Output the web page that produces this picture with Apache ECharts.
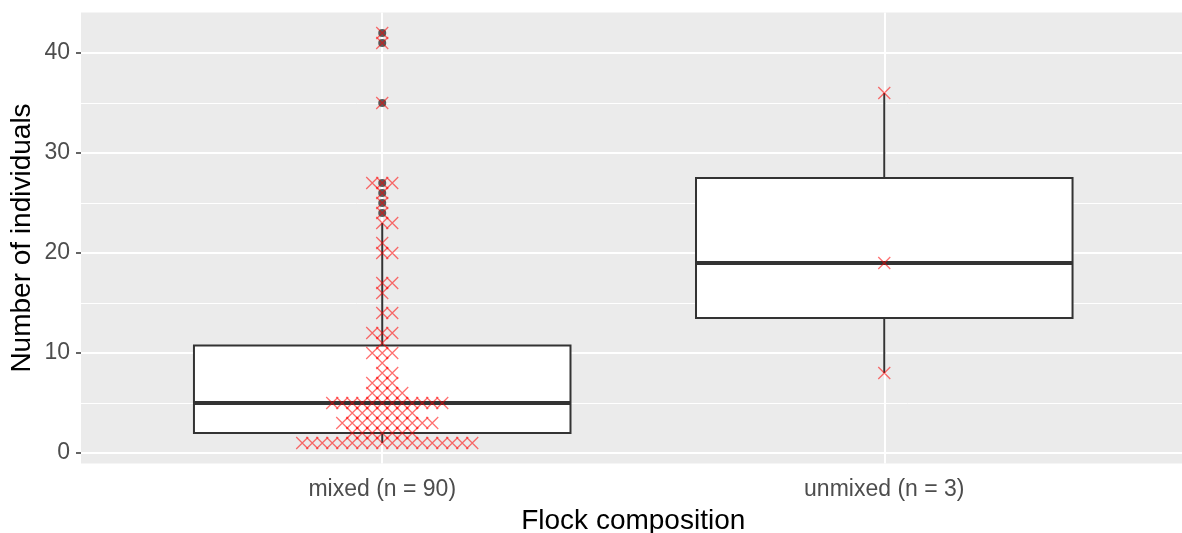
<!DOCTYPE html>
<html><head><meta charset="utf-8">
<script src="https://cdn.jsdelivr.net/npm/echarts@6/dist/echarts.min.js"></script>
<style>html,body{margin:0;padding:0;background:#fff}#c{width:1182px;height:533px}</style>
</head><body><div id="c"></div>
<script>
// ---- data ----
const categories = ['mixed (n = 90)', 'unmixed (n = 3)'];
const mixedValues = [
  1,1,1,1,1,1,1,1,1,1,1,1,1,1,1,1,1,1,
  2,2,2,2,2,2,2,
  3,3,3,3,3,3,3,3,3,3,
  4,4,4,4,4,4,4,
  5,5,5,5,5,5,5,5,5,5,5,5,
  6,6,6,6,
  7,7,7,
  8,8,
  9,
  10,10,10,
  11,
  12,12,12,
  14,14,
  16,
  17,17,
  20,20,
  21,
  23,23,
  24,25,26,
  27,27,27,
  35,41,42
];
const unmixedValues = [8, 19, 36];
const yTicks = [0, 10, 20, 30, 40];
const yMinorBreaks = [5, 15, 25, 35];
const xTicks = [1, 2];

// ---- layout constants ----
const GRID_LEFT = 81, GRID_TOP = 12.5, GRID_W = 1104.5, GRID_H = 451;
const X_MIN = 0.4, X_MAX = 2.6, Y_MIN = -1.05, Y_MAX = 44.05;
const SWARM_PX = 10;
const pxPerUnit = GRID_W / (X_MAX - X_MIN);

function quantile(sorted, p) {
  const h = (sorted.length - 1) * p;
  const lo = Math.floor(h), hi = Math.ceil(h);
  return sorted[lo] + (h - lo) * (sorted[hi] - sorted[lo]);
}
function boxStats(vals) {
  const s = vals.slice().sort((a, b) => a - b);
  const q1 = quantile(s, 0.25), med = quantile(s, 0.5), q3 = quantile(s, 0.75);
  const iqr = q3 - q1, lf = q1 - 1.5 * iqr, uf = q3 + 1.5 * iqr;
  const inside = s.filter(v => v >= lf && v <= uf);
  const out = Array.from(new Set(s.filter(v => v < lf || v > uf)));
  return { lo: inside[0], q1, med, q3, hi: inside[inside.length - 1], out };
}
function swarm(vals, center) {
  const s = vals.slice().sort((a, b) => a - b);
  const counts = {};
  return s.map(v => {
    const k = counts[v] || 0; counts[v] = k + 1;
    const idx = k === 0 ? 0 : (k % 2 === 1 ? (k + 1) / 2 : -k / 2);
    return [center + idx * SWARM_PX / pxPerUnit, v];
  });
}

const groups = [mixedValues, unmixedValues];
const stats = groups.map(boxStats);
const boxData = stats.map((st, i) => [i + 1, st.lo, st.q1, st.med, st.q3, st.hi]);
const outlierData = [];
stats.forEach((st, i) => st.out.forEach(v => outlierData.push([i + 1, v])));
const pointData = [];
groups.forEach((g, i) => swarm(g, i + 1).forEach(p => pointData.push(p)));

const chart = echarts.init(document.getElementById('c'), null, { renderer: 'canvas' });
const FONT = 'Liberation Sans, Arial, sans-serif';
const gridLines = []
  .concat(yMinorBreaks.map(v => ({ yAxis: v, lineStyle: { width: 1, color: '#FFFFFF', type: 'solid' } })))
  .concat(yTicks.map(v => ({ yAxis: v, lineStyle: { width: 2, color: '#FFFFFF', type: 'solid' } })))
  .concat(xTicks.map(v => ({ xAxis: v, lineStyle: { width: 2, color: '#FFFFFF', type: 'solid' } })));

chart.setOption({
  animation: false,
  textStyle: { fontFamily: FONT },
  grid: { left: GRID_LEFT, top: GRID_TOP, width: GRID_W, height: GRID_H, show: true,
          backgroundColor: '#EBEBEB', borderWidth: 0, z: 0,
          containLabel: false, outerBoundsMode: 'none' },
  xAxis: {
    type: 'value', min: X_MIN, max: X_MAX,
    axisLine: { show: false }, splitLine: { show: false },
    axisTick: { show: true, customValues: xTicks, length: 5, lineStyle: { color: '#333333', width: 1.5 } },
    axisLabel: { customValues: xTicks, formatter: v => categories[Math.round(v) - 1],
                 color: '#4D4D4D', fontSize: 23, margin: 15, fontFamily: FONT },
    name: 'Flock composition', nameLocation: 'middle', nameGap: 44,
    nameTextStyle: { color: '#000000', fontSize: 28, fontFamily: FONT }
  },
  yAxis: {
    type: 'value', min: Y_MIN, max: Y_MAX,
    axisLine: { show: false }, splitLine: { show: false },
    axisTick: { show: true, customValues: yTicks, length: 5, lineStyle: { color: '#333333', width: 1.5 } },
    axisLabel: { customValues: yTicks, color: '#4D4D4D', fontSize: 23, margin: 11, fontFamily: FONT },
    name: 'Number of individuals', nameLocation: 'middle', nameGap: 45, nameRotate: 90,
    nameMoveOverlap: false,
    nameTextStyle: { color: '#000000', fontSize: 28, fontFamily: FONT }
  },
  series: [
    { type: 'scatter', data: [], z: 1, silent: true,
      markLine: { z: 1, zlevel: 0, silent: true, symbol: ['none', 'none'], label: { show: false },
                  animation: false, data: gridLines } },
    { type: 'custom', z: 6, data: boxData, silent: true,
      renderItem: function (params, api) {
        const x = api.value(0), hw = 0.375;
        const lo = api.coord([x, api.value(1)]);
        const q1L = api.coord([x - hw, api.value(2)]);
        const medL = api.coord([x - hw, api.value(3)]);
        const q3R = api.coord([x + hw, api.value(4)]);
        const hi = api.coord([x, api.value(5)]);
        const c = api.coord([x, api.value(3)]);
        const stroke = '#333333';
        return { type: 'group', children: [
          { type: 'line', shape: { x1: c[0], y1: q1L[1], x2: c[0], y2: lo[1] }, style: { stroke, lineWidth: 2 } },
          { type: 'line', shape: { x1: c[0], y1: q3R[1], x2: c[0], y2: hi[1] }, style: { stroke, lineWidth: 2 } },
          { type: 'rect', shape: { x: q1L[0], y: q3R[1], width: q3R[0] - q1L[0], height: q1L[1] - q3R[1] },
            style: { fill: '#FFFFFF', stroke, lineWidth: 2 } },
          { type: 'line', shape: { x1: q1L[0], y1: medL[1], x2: q3R[0], y2: medL[1] }, style: { stroke, lineWidth: 4 } }
        ] };
      } },
    { type: 'scatter', z: 7, data: outlierData, symbol: 'circle', symbolSize: 8, silent: true,
      itemStyle: { color: '#333333' } },
    { type: 'scatter', z: 8, data: pointData, symbol: 'path://M0,0L10,10M10,0L0,10', symbolSize: 12, silent: true,
      itemStyle: { color: 'rgba(0,0,0,0)', borderColor: 'rgba(255,0,0,0.7)', borderWidth: 1.3 } }
  ]
});
</script></body></html>
